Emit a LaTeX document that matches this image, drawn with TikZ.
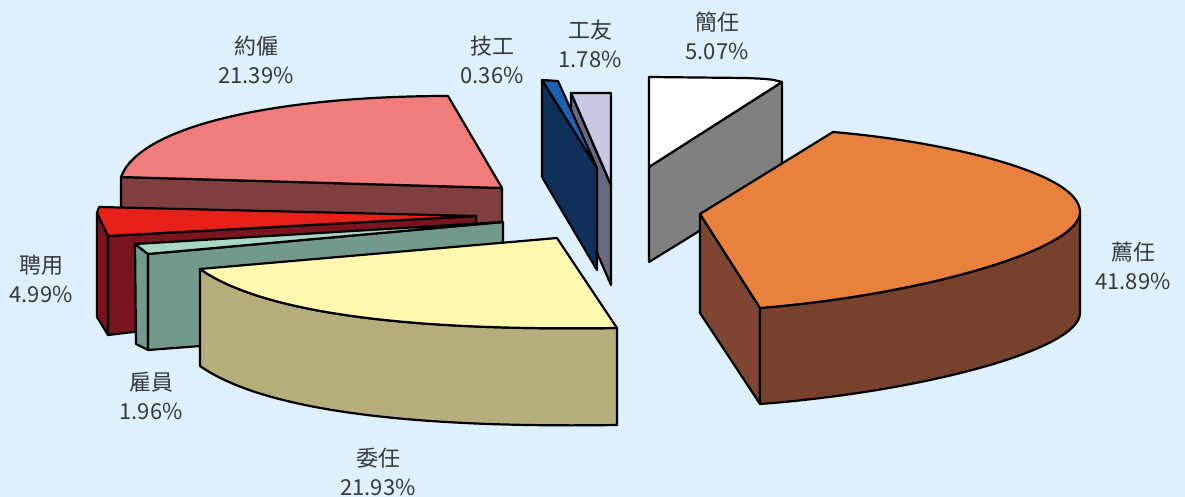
\documentclass[tikz,border=0pt]{standalone}
\usepackage{fontspec}
\newfontfamily\cjk{Noto Sans CJK TC}
\usetikzlibrary{positioning}
\definecolor{bg}{HTML}{DDF0FB}
\definecolor{txtgray}{HTML}{383838}
\definecolor{pinktop}{HTML}{F07C7C}
\definecolor{pinkside}{HTML}{7F3F40}
\definecolor{redtop}{HTML}{E8201A}
\definecolor{redside}{HTML}{7A1520}
\definecolor{mint}{HTML}{A8D8C4}
\definecolor{tealside}{HTML}{73998A}
\definecolor{yellowtop}{HTML}{FFF8AE}
\definecolor{yellowside}{HTML}{B5AE7C}
\definecolor{bluetop}{HTML}{1C62B0}
\definecolor{blueside}{HTML}{10305C}
\definecolor{lavtop}{HTML}{C8C8E4}
\definecolor{lavside}{HTML}{68687E}
\definecolor{grayside}{HTML}{808080}
\definecolor{orangetop}{HTML}{E8803E}
\definecolor{orangeside}{HTML}{77412D}
\definecolor{orangeleft}{HTML}{7F4533}
\tikzstyle{face}=[draw=black,line width=2.2pt,line join=round]
\tikzstyle{lbl}=[align=center,text=txtgray,inner sep=0pt,font=\cjk\fontsize{22}{29}\selectfont]

\begin{document}
\begin{tikzpicture}[x=1pt,y=-1pt]

  \fill[bg] (0,0) rectangle (1185,497);
  \useasboundingbox (0,0) rectangle (1185,497);

% 約僱
  \draw[face,fill=pinkside] (121,177) -- (502,188) -- (502,232) -- (121,214) -- cycle;
  \draw[face,fill=pinktop] (121,177) .. controls (140,125) and (280,96) .. (448,96) -- (502,188) -- cycle;

% 聘用
  \draw[face,fill=redside] (97,213) -- (108,236) -- (108,335) -- (97,317) -- cycle;
  \draw[face,fill=redside] (108,236) -- (476,216) -- (476,292) -- (108,335) -- cycle;
  \draw[face,fill=redtop] (97,213) -- (99,207) -- (476,216) -- (108,236) -- cycle;

% 雇員
  \draw[face,fill=tealside] (135,244) -- (148,254) -- (148,350) -- (136,344) -- cycle;
  \draw[face,fill=tealside] (148,254) -- (503,222) -- (503,323) -- (148,350) -- cycle;
  \draw[face,fill=mint] (135,244) -- (503,222) -- (148,254) -- cycle;

% 委任
  \draw[face,fill=yellowside] (200,269) -- (200,366) .. controls (280,422) and (480,427) .. (617,425)
        -- (617,328) .. controls (480,330) and (280,325) .. (200,269) -- cycle;
  \draw[face,fill=yellowtop] (200,269) -- (557,238) -- (617,328) .. controls (480,330) and (280,325) .. (200,269) -- cycle;

% 工友
  \draw[face,fill=lavside] (571,93) -- (611,185) -- (611,285) -- (571,193) -- cycle;
  \draw[face,fill=lavtop] (571,93) -- (611,93) -- (611,185) -- cycle;

% 技工
  \draw[face,fill=blueside] (542,80) -- (597,168) -- (597,270) -- (542,177) -- cycle;
  \draw[face,fill=bluetop] (542,80) -- (558,81) -- (597,168) -- cycle;

% 簡任
  \draw[face,fill=grayside] (649,167) -- (782,82) -- (782,180) -- (649,262) -- cycle;
  \draw[face,fill=white] (649,77) -- (745,78) .. controls (770,79) .. (782,82) -- (649,167) -- cycle;

% 薦任
  \draw[face,fill=orangeleft] (700,214) -- (760,308) -- (760,404) -- (700,313) -- cycle;
  \draw[face,fill=orangeside] (760,308) .. controls (920,295) and (1080,250) .. (1080,212)
        -- (1080,313) .. controls (1080,350) and (920,392) .. (760,404) -- cycle;
  \draw[face,fill=orangetop] (700,214) -- (833,132) .. controls (930,140) and (1080,170) .. (1080,212)
        .. controls (1080,250) and (920,295) .. (760,308) -- cycle;

% labels
  \foreach \pos/\id/\txt/\pct in {{(256,60)/yuegu/約僱/21.39}, {(492,60)/jigong/技工/0.36},
      {(590,44)/gongyou/工友/1.78}, {(717,36)/jianren/簡任/5.07}, {(1133,266)/jianren2/薦任/41.89},
      {(41,279)/pinyong/聘用/4.99}, {(151,396)/guyuan/雇員/1.96}, {(378,472)/weiren/委任/21.93}}
    \node[lbl] (\id) at \pos {\txt\\\pct\%};

\end{tikzpicture}
\end{document}
